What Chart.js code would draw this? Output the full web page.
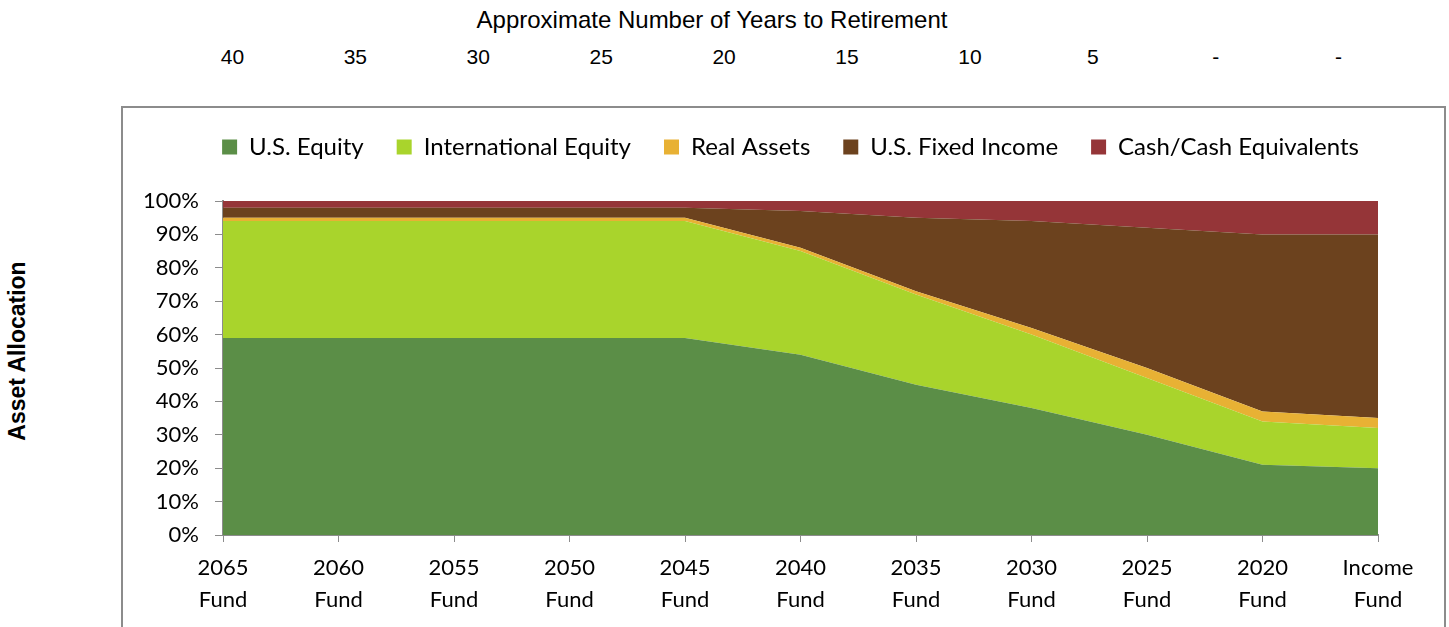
<!DOCTYPE html>
<html lang="en">
<head>
    <meta charset="UTF-8">
    <title>Asset Allocation Glide Path</title>
    <script src="https://cdn.jsdelivr.net/npm/chart.js"></script>
    <style>
        body { margin: 0; background: #fff; width: 1449px; height: 627px; overflow: hidden; position: relative; font-family: "Liberation Sans", Arial, sans-serif; }
        #titulo { position: absolute; top: 6px; left: 0; width: 1424px; text-align: center; font-size: 24px; color: #000; }
        #anios { position: absolute; top: 45px; left: 171px; width: 1229px; display: flex; font-size: 21px; color: #000; }
        #anios span { flex: 1; text-align: center; }
        #ejeY { position: absolute; left: 17px; top: 351px; transform: translate(-50%, -50%) rotate(-90deg); font-weight: bold; font-size: 23px; white-space: nowrap; }
        #marco { position: absolute; left: 121px; top: 106px; width: 1321px; height: 560px; border: 2px solid #8c8c8c; }
        #contenedor { position: absolute; left: 0; top: -6px; width: 1321px; height: 540px; }
    </style>
</head>
<body>
    <div id="titulo">Approximate Number of Years to Retirement</div>
    <div id="anios"></div>
    <div id="ejeY">Asset Allocation</div>
    <div id="marco">
        <div id="contenedor"><canvas id="miGrafica"></canvas></div>
    </div>

    <script>
        const fondos = [['2065', 'Fund'], ['2060', 'Fund'], ['2055', 'Fund'], ['2050', 'Fund'], ['2045', 'Fund'],
                        ['2040', 'Fund'], ['2035', 'Fund'], ['2030', 'Fund'], ['2025', 'Fund'], ['2020', 'Fund'], ['Income', 'Fund']];
        const aniosRetiro = ['40', '35', '30', '25', '20', '15', '10', '5', '-', '-'];

        const accionesUS   = [59, 59, 59, 59, 59, 54, 45, 38, 30, 21, 20];
        const accionesInt  = [35, 35, 35, 35, 35, 31, 27, 22, 17, 13, 12];
        const activosReales = [1, 1, 1, 1, 1, 1, 1, 2, 3, 3, 3];
        const rentaFijaUS  = [3, 3, 3, 3, 3, 11, 22, 32, 42, 53, 55];
        const efectivo     = [2, 2, 2, 2, 2, 3, 5, 6, 8, 10, 10];

        document.getElementById('anios').innerHTML = aniosRetiro.map(a => '<span>' + a + '</span>').join('');

        const fuente = 'Lato';

        // deja espacio entre la leyenda y el area del grafico, y la corre un poco a la derecha
        const ajusteLeyenda = {
            id: 'ajusteLeyenda',
            beforeInit(chart) {
                const fitOriginal = chart.legend.fit;
                chart.legend.fit = function () {
                    fitOriginal.bind(chart.legend)();
                    this.height += 32;
                };
            },
            afterLayout(chart) {
                chart.legend.left += 40;
                chart.legend.right += 40;
            }
        };

        function serie(label, data, color, fill) {
            return {
                label: label,
                data: data,
                backgroundColor: color,
                borderColor: color,
                borderWidth: 0,
                pointRadius: 0,
                tension: 0,
                fill: fill
            };
        }

        const ctx = document.getElementById('miGrafica').getContext('2d');
        new Chart(ctx, {
            type: 'line',
            data: {
                labels: fondos,
                datasets: [
                    serie('U.S. Equity', accionesUS, '#5b8e47', 'origin'),
                    serie('International Equity', accionesInt, '#a9d42c', '-1'),
                    serie('Real Assets', activosReales, '#e8b134', '-1'),
                    serie('U.S. Fixed Income', rentaFijaUS, '#6c421e', '-1'),
                    serie('Cash/Cash Equivalents', efectivo, '#953538', '-1')
                ]
            },
            options: {
                responsive: true,
                maintainAspectRatio: false,
                animation: false,
                layout: { padding: { left: 0, right: 66, top: 0, bottom: 0 } },
                plugins: {
                    legend: {
                        display: true,
                        position: 'top',
                        labels: {
                            boxWidth: 15,
                            boxHeight: 15,
                            padding: 33,
                            color: '#000',
                            font: { family: fuente, size: 24 }
                        }
                    },
                    tooltip: { enabled: false }
                },
                scales: {
                    x: {
                        offset: false,
                        grid: { display: true, drawOnChartArea: false, drawTicks: true, tickLength: 7, color: '#8c8c8c' },
                        border: { color: '#8c8c8c', width: 2 },
                        ticks: { color: '#000', maxRotation: 0, autoSkip: false, padding: 10, font: { family: fuente, size: 22, lineHeight: 1.45 } },
                        afterFit: s => { s.height = 107; }
                    },
                    y: {
                        stacked: true,
                        min: 0,
                        max: 100,
                        grid: { display: true, drawOnChartArea: false, drawTicks: true, tickLength: 8, color: '#8c8c8c' },
                        border: { color: '#8c8c8c', width: 2 },
                        ticks: { stepSize: 10, color: '#000', padding: 16, font: { family: fuente, size: 22 }, callback: v => v + '%' },
                        afterFit: s => { s.width = 100; }
                    }
                }
            },
            plugins: [ajusteLeyenda]
        });
    </script>
</body>
</html>
